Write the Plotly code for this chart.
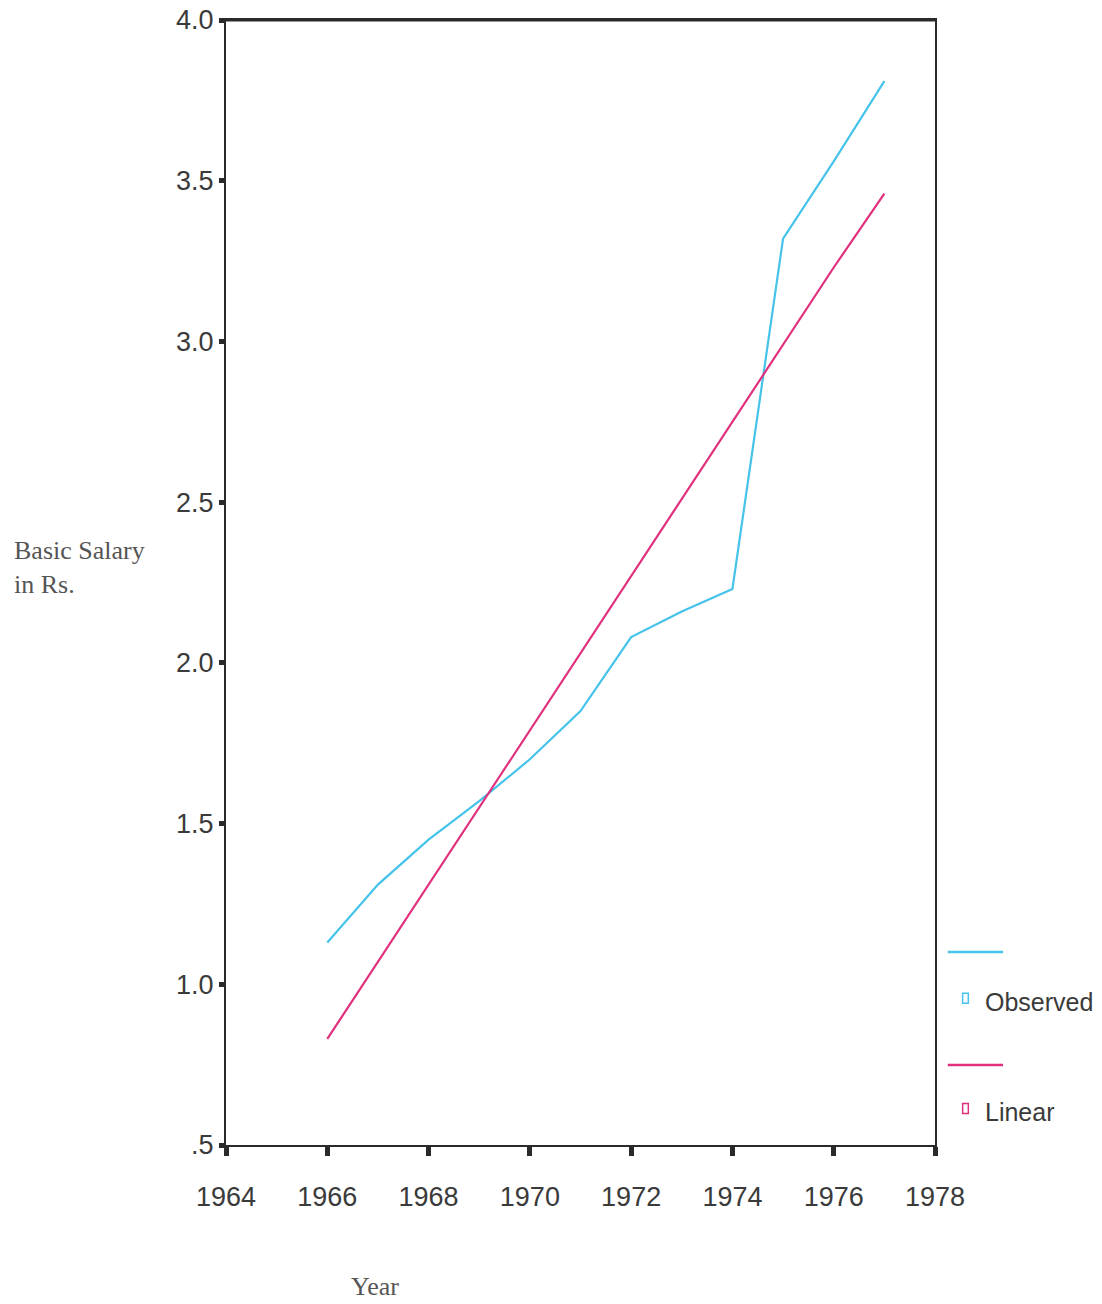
import plotly.graph_objects as go

years = [1966, 1967, 1968, 1969, 1970, 1971, 1972, 1973, 1974, 1975, 1976, 1977]
observed = [1.13, 1.31, 1.45, 1.57, 1.70, 1.85, 2.08, 2.16, 2.23, 3.32, 3.56, 3.81]
linear = [0.83, 1.07, 1.31, 1.55, 1.79, 2.03, 2.27, 2.51, 2.75, 2.99, 3.23, 3.46]

x_ticks = [1964, 1966, 1968, 1970, 1972, 1974, 1976, 1978]
y_ticks = [0.5, 1.0, 1.5, 2.0, 2.5, 3.0, 3.5, 4.0]
y_tick_labels = [".5", "1.0", "1.5", "2.0", "2.5", "3.0", "3.5", "4.0"]

CYAN = "#45C3EA"
MAGENTA = "#E0307E"
TICKFONT = dict(family="Liberation Sans Narrow, Liberation Sans, Arial, sans-serif",
                size=27, color="#3a3a3a")
LEGFONT = dict(family="Liberation Sans Narrow, Liberation Sans, Arial, sans-serif",
               size=25, color="#3a3a3a")
SERIF = dict(family="Liberation Serif, Times New Roman, serif", size=26, color="#555555")

fig = go.Figure()
fig.add_trace(go.Scatter(x=years, y=observed, mode="lines", name="Observed",
                         line=dict(color=CYAN, width=2.2)))
fig.add_trace(go.Scatter(x=years, y=linear, mode="lines", name="Linear",
                         line=dict(color=MAGENTA, width=2.2)))

fig.update_layout(
    width=1102, height=1304,
    margin=dict(l=226, r=167, t=20, b=159),
    paper_bgcolor="white", plot_bgcolor="white",
    showlegend=False,
)
fig.update_xaxes(range=[1964, 1978], tickvals=x_ticks, ticktext=[str(v) for v in x_ticks],
                 showgrid=False, zeroline=False, showline=True, linecolor="#2a2a2a",
                 linewidth=2, mirror=True, ticks="outside", ticklen=9, tickwidth=5,
                 tickcolor="#2a2a2a", tickfont=TICKFONT, ticklabelstandoff=18,
                 automargin=False, ticklabeloverflow="allow")
fig.update_yaxes(range=[0.5, 4.0], tickvals=y_ticks, ticktext=y_tick_labels,
                 showgrid=False, zeroline=False, showline=True, linecolor="#2a2a2a",
                 linewidth=2, mirror=True, ticks="outside", ticklen=5, tickwidth=5,
                 tickcolor="#2a2a2a", tickfont=TICKFONT, ticklabelstandoff=0,
                 automargin=False, ticklabeloverflow="allow")

# thicker top frame line
fig.add_shape(type="line", xref="paper", yref="paper", x0=0, x1=1, y0=1, y1=1,
              line=dict(color="#2a2a2a", width=3))

# custom legend (SPSS style)
legend_items = [("Observed", CYAN, 0.1716, 0.131), ("Linear", MAGENTA, 0.0711, 0.033)]
for name, color, yline, ytext in legend_items:
    fig.add_shape(type="line", xref="paper", yref="paper", x0=1.018, x1=1.096,
                  y0=yline, y1=yline, line=dict(color=color, width=2.5))
    fig.add_shape(type="rect", xref="paper", yref="paper", x0=1.039, x1=1.047,
                  y0=ytext - 0.005, y1=ytext + 0.004, line=dict(color=color, width=1.5),
                  fillcolor="white")
    fig.add_annotation(xref="paper", yref="paper", x=1.068, y=ytext - 0.004, text=name,
                       showarrow=False, xanchor="left", yanchor="middle",
                       font=LEGFONT)

fig.add_annotation(xref="paper", yref="paper", x=-0.302, y=(1145 - 567) / 1125,
                   text="Basic Salary<br>in Rs.", showarrow=False, xanchor="left",
                   yanchor="middle", align="left", font=SERIF)
fig.add_annotation(xref="paper", yref="paper", x=0.210, y=-0.126, text="Year",
                   showarrow=False, xanchor="center", yanchor="middle", font=SERIF)

fig.write_html("out.html", config={"displayModeBar": False},
               post_script="document.body.style.margin='0';document.body.style.overflow='hidden';")
